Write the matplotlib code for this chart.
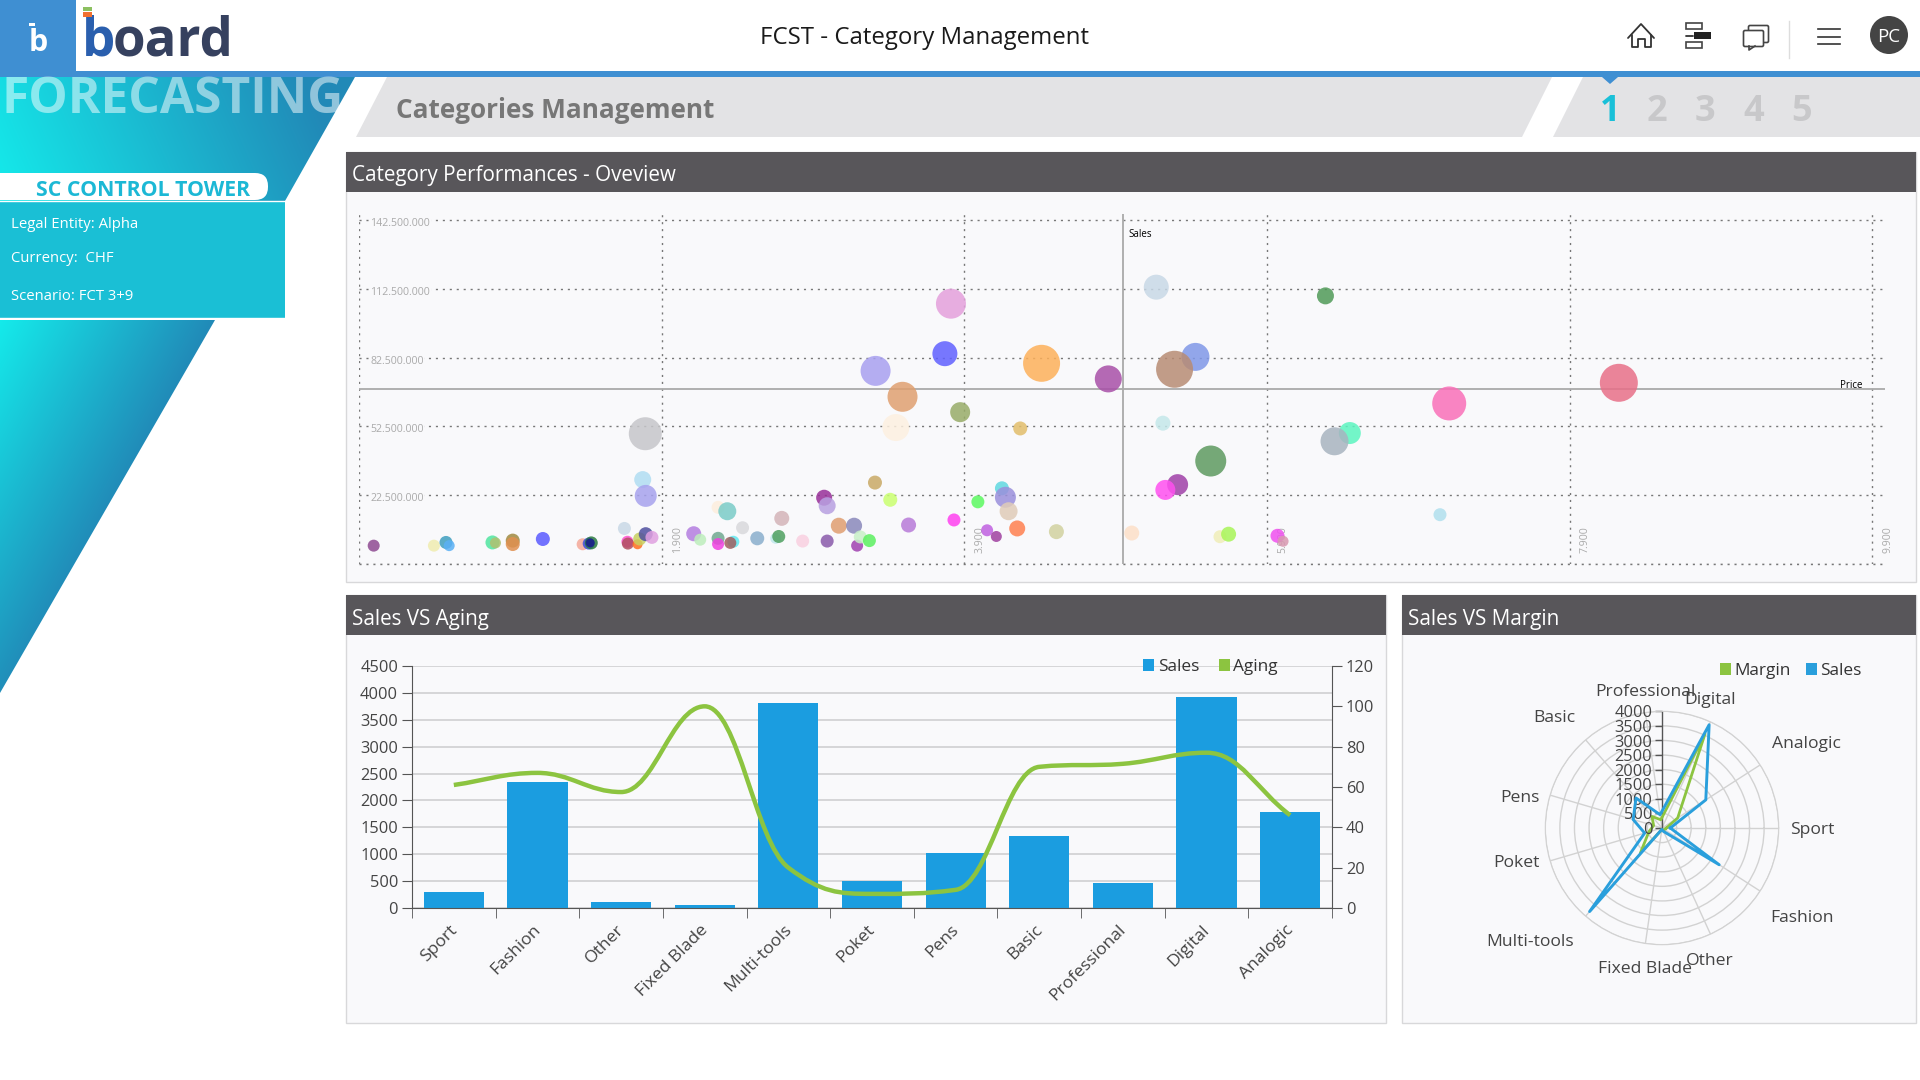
import matplotlib
matplotlib.use('Agg')
import matplotlib.pyplot as plt
import matplotlib.transforms as mtrans
import numpy as np
from matplotlib.patches import Polygon, Rectangle, Circle, FancyBboxPatch
from matplotlib.path import Path
from matplotlib.patches import PathPatch

plt.rcParams['font.family'] = ['Open Sans', 'DejaVu Sans']

W, H = 1920, 1080

# bubble chart
price = [-3, 395, 475, 496, 782, 802, 916, 916, 1115, 1378, 1418, 1435, 1428, 1654, 1674, 1677, 1741, 1755, 1795, 1836,
         1792, 1775, 1795, 2112, 2155, 2273, 2273, 2374, 2354, 2273, 2334, 2435, 2532, 2654, 2674, 2694, 2832, 2994,
         2974, 2994, 3071, 3172, 3192, 3213, 3273, 3310, 3411, 3532, 3832, 3812, 3772, 3314, 3492, 3448, 3873, 4270,
         4411, 4852, 3990, 4149, 4172, 4193, 4051, 4112, 4250, 4509, 5007,
         5169, 6287, 5428, 5290, 5213, 5529, 5310, 5229, 5590, 5647, 5970, 6007, 6448, 6347, 7105, 7044, 8226]
sales_m = [0.5, 0.5, 1.9, 0.5, 1.9, 1.7, 2.7, 1.2, 3.4, 1.1, 1.4, 1.7, 1.7, 8.0, 2.2, 1.4, 1.1, 3.4, 5.5, 4.1,
           49.3, 29.3, 22.2, 5.7, 3.1, 3.7, 1.2, 2.2, 1.7, 17.2, 15.5, 8.3, 3.7, 3.7, 4.5, 12.4, 2.5, 2.5,
           21.4, 17.9, 9.2, 9.2, 0.5, 4.3, 2.7, 28.0, 20.5, 9.5, 11.7, 106.0, 84.2, 76.7, 65.4, 52.0, 58.7, 51.6,
           80.0, 73.2, 19.6, 25.5, 21.6, 15.5, 7.2, 4.5, 8.0, 6.6, 6.0,
           113.2, 109.4, 82.8, 77.4, 53.9, 37.4, 27.1, 24.8, 4.4, 5.5, 4.8, 2.4, 49.6, 46.0, 62.5, 14.0, 71.5]
bubble_size = [12, 12, 13, 11, 14, 11, 14, 14, 14, 12, 12, 13, 9, 13, 12, 12, 10, 13, 14, 13,
               33, 17, 22, 15, 12, 13, 12, 12, 12, 13, 18, 13, 14, 11, 13, 15, 13, 13,
               16, 17, 16, 16, 12, 13, 13, 14, 14, 15, 13, 30, 25, 30, 30, 27, 20, 14,
               37, 27, 13, 14, 21, 18, 12, 11, 16, 15, 15,
               25, 17, 28, 37, 15, 31, 21, 20, 13, 15, 14, 11, 22, 28, 34, 13, 38]
bubble_color = ['#8e4a92', '#f0edb0', '#3f9fc0', '#5ab0f5', '#50e5a0', '#b0c070', '#a08a40', '#e09050', '#5a5aff',
                '#f5a898', '#3a50e0', '#2a7a40', '#1a1a90', '#c9d9e6', '#ff50d0', '#b05060', '#ff7020', '#c8d060',
                '#5050a0', '#e0a0e0', '#c6c6ca', '#b0ddf2', '#a7a2ee', '#b47ee0', '#bdeebc', '#70a890', '#f040e0',
                '#60e8f0', '#a06060', '#fdeedd', '#7accc8', '#d8d8dc', '#8aaecc', '#c0e8ec', '#4fa060', '#d4b4b8',
                '#fad0e0', '#8a5aaa', '#982f98', '#b8a0e0', '#e09e70', '#8a88bb', '#a040b0', '#c8f0c8', '#5cf060',
                '#c9aa66', '#caff70', '#b87ad8', '#ff40f0', '#e4a0dc', '#6060ff', '#a8a0f0', '#e0a070', '#fdf0e0',
                '#98ac68', '#e2be6a', '#fdb05a', '#a850a8', '#5cfa60', '#60d8e0', '#9a90dc', '#e0ccb8', '#c060e0',
                '#a040a0', '#ff8050', '#d2d2a0', '#fde0c8',
                '#c8d8e6', '#509a58', '#8098e8', '#b88c74', '#c4e8ea', '#5e9a60', '#a040a8', '#ff50f0', '#f0eeb8',
                '#a8f558', '#f050f0', '#d898b0', '#5cf5c0', '#a8b4c0', '#fa70b8', '#b0e0ee', '#e87088']
price_ticks = [-100, 1900, 3900, 5900, 7900, 9900]
price_labels = ['', '1.900', '3.900', '5.900', '7.900', '9.900']
sales_ticks = [-7.5, 22.5, 52.5, 82.5, 112.5, 142.5]
sales_labels = ['', '22.500.000', '52.500.000', '82.500.000', '112.500.000', '142.500.000']
avg_price = 4950
avg_sales = 69

# bars + radar
categories = ['Sport', 'Fashion', 'Other', 'Fixed Blade', 'Multi-tools', 'Poket', 'Pens', 'Basic',
              'Professional', 'Digital', 'Analogic']
sales = [300, 2340, 120, 60, 3810, 500, 1020, 1330, 460, 3920, 1780]
aging = [61, 67, 57.5, 100, 20, 7, 9, 70, 71.5, 77, 46]
margin = [150, 100, 80, 60, 1130, 470, 300, 525, 285, 3550, 640]
radar_sales = [285, 2330, 130, 50, 3790, 620, 1030, 1360, 460, 3890, 1785]
radar_label_dx = [150, 140, 48, -17, -132, -146, -142, -108, -17, 48, 144]
radar_label_dy = [0, 88, 131, 139, 112, 33, -32, -112, -138, -130, -86]

fig = plt.figure(figsize=(W / 100, H / 100), dpi=100, facecolor='white')


def px_axes(l, t, r, b, **kw):
    return fig.add_axes([l / W, 1 - b / H, (r - l) / W, (b - t) / H], **kw)


# page furniture, in pixels
bg = px_axes(0, 0, W, H, zorder=0)
bg.axis('off')


def gradient(points, ky, k0):
    poly = Polygon(points, closed=True, fc='none', ec='none')
    bg.add_patch(poly)
    xs = [p[0] for p in points]
    ys = [p[1] for p in points]
    c0 = np.array([0.08, 0.92, 0.92])
    c1 = np.array([0.13, 0.54, 0.72])
    u, v = np.meshgrid(np.linspace(0, 1, 300), np.linspace(0, 1, 300))
    t = np.clip(u + ky * v + k0, 0, 1)[:, :, None]
    im = bg.imshow(c0 + (c1 - c0) * t, extent=(min(xs), max(xs), max(ys), min(ys)), aspect='auto', zorder=1)
    im.set_clip_path(poly)


gradient([(0, 77), (355, 77), (285, 201), (0, 201)], -0.15, 0.15)
gradient([(0, 320), (215, 320), (0, 693)], 0.95, 0)
bg.set_xlim(0, W)
bg.set_ylim(H, 0)

bg.add_patch(Rectangle((0, 71), W, 6, fc='#3f8fd2', ec='none', zorder=3))
bg.add_patch(Rectangle((0, 0), 76, 71, fc='#3f8fd2', ec='none', zorder=3))
bg.add_patch(Polygon([(387, 77), (1552, 77), (1522, 137), (356, 137)], fc='#e3e3e5', ec='none', zorder=2))
bg.add_patch(Polygon([(1583, 77), (W, 77), (W, 137), (1553, 137)], fc='#e3e3e5', ec='none', zorder=2))
bg.add_patch(Polygon([(1602, 77), (1618, 77), (1610, 84)], fc='#3f8fd2', ec='none', zorder=3))

# logo
bg.text(38, 51, 'b', color='white', fontsize=22, fontweight='bold', ha='center', va='baseline', zorder=4)
bg.add_patch(Rectangle((29, 23), 6, 3, fc='white', ec='none', zorder=4))
bg.text(82, 56, 'b', color='#2a5fae', fontsize=38, fontweight='bold', va='baseline', zorder=4)
bg.text(113, 56, 'oard', color='#36415f', fontsize=38, fontweight='bold', va='baseline', zorder=4)
bg.add_patch(Rectangle((83, 7), 9, 4, fc='#8cc060', ec='none', zorder=4))
bg.add_patch(Rectangle((83, 12), 9, 5, fc='#f07030', ec='none', zorder=4))

bg.text(925, 38, 'FCST - Category Management', color='#1a1a1a', fontsize=17.3, ha='center', va='center', zorder=4)

# header icons
ic = dict(color='#333333', lw=1.3, zorder=4, solid_capstyle='round')
bg.plot([1628, 1641, 1654], [38, 24, 38], **ic)
bg.plot([1632, 1632, 1638, 1638, 1645, 1645, 1651, 1651], [35, 47, 47, 39, 39, 47, 47, 35], **ic)
bg.add_patch(Rectangle((1686, 23), 16, 6, fc='none', ec='#444444', lw=1.2, zorder=4))
bg.add_patch(Rectangle((1686, 42), 16, 6, fc='none', ec='#444444', lw=1.2, zorder=4))
bg.add_patch(Rectangle((1694, 32), 17, 7, fc='#222222', ec='none', zorder=4))
bg.plot([1686, 1693], [36, 36], **ic)
bg.add_patch(FancyBboxPatch((1750, 27), 17, 14, boxstyle='round,pad=1.5', fc='white', ec='#444444', lw=1.2, zorder=4))
bg.add_patch(FancyBboxPatch((1745, 32), 17, 13, boxstyle='round,pad=1.5', fc='white', ec='#444444', lw=1.2, zorder=4))
bg.plot([1749, 1749, 1755], [46, 50, 46], zorder=5, color='#444444', lw=1.2)
bg.plot([1789, 1789], [21, 58], color='#dddddd', lw=1, zorder=4)
for yy in (29, 37, 44):
    bg.plot([1818, 1840], [yy, yy], color='#333333', lw=1.2, zorder=4)
bg.add_patch(Circle((1889, 35), 19, fc='#444444', ec='none', zorder=4))
bg.text(1889, 37, 'PC', color='white', fontsize=13.5, ha='center', va='center', zorder=5)

# band texts
bg.text(396, 111, 'Categories Management', color='#777777', fontsize=18.8, fontweight='bold', va='center', zorder=4)
for i, xx in enumerate([1610, 1657, 1705, 1754, 1802]):
    bg.text(xx, 112, str(i + 1), color='#1ac0d8' if i == 0 else '#c8c8ca', fontsize=26, fontweight='bold',
            ha='center', va='center', zorder=4)

# sidebar
bg.text(1, 100, 'FORECASTING', color='white', alpha=0.5, fontsize=35.7, fontweight='bold', va='center', zorder=4)
bg.add_patch(FancyBboxPatch((-20, 173), 288, 27, boxstyle='round,pad=0,rounding_size=13', fc='white', ec='none', zorder=3))
bg.text(143, 191, 'SC CONTROL TOWER', color='#1cb8d5', fontsize=15.3, fontweight='bold', ha='center', va='center', zorder=4)
bg.add_patch(Rectangle((0, 201), 285, 117, fc='#1abfd5', ec='none', zorder=3))
for yy in (201, 318):
    bg.plot([0, 285], [yy, yy], color='white', lw=1, zorder=3)
for yy, txt in zip([224, 259, 297], ['Legal Entity: Alpha', 'Currency:  CHF', 'Scenario: FCT 3+9']):
    bg.text(11, yy, txt, color='white', fontsize=10.7, va='center', zorder=4)

# panels
for l, t, r, b, title in [(346, 152, 1916, 582, 'Category Performances - Oveview'),
                          (346, 595, 1386, 1023, 'Sales VS Aging'),
                          (1402, 595, 1916, 1023, 'Sales VS Margin')]:
    bg.add_patch(Rectangle((l, t), r - l, b - t, fc='#f9f9fb', ec='#d8d8da', lw=1, zorder=2))
    bg.add_patch(Rectangle((l, t), r - l, 40, fc='#58565a', ec='none', zorder=3))
    bg.text(l + 6, t + 24, title, color='white', fontsize=14.9, va='center', zorder=4)

# bubble chart
ax = px_axes(359, 214, 1885, 564, zorder=2, facecolor='none')
ax.set_xlim(-100, 9985)
ax.set_ylim(-7.5, 145.1)
for s in ax.spines.values():
    s.set_visible(False)
ax.set_xticks(price_ticks)
ax.set_yticks(sales_ticks)
ax.set_xticklabels([])
ax.set_yticklabels([])
ax.tick_params(length=0)
ax.grid(True, ls=(0, (1.5, 3.5)), color='#777777', lw=1)
ax.set_axisbelow(True)
ax.plot([-100, 9985], [-7.5, -7.5], ls=(0, (1.5, 3.5)), color='#777777', lw=1, clip_on=False)
ax.axvline(avg_price, color='#aaaaaa', lw=1.3, zorder=2)
ax.axhline(avg_sales, color='#aaaaaa', lw=1.3, zorder=2)
ax.scatter(price, sales_m, s=[(d * 0.72) ** 2 for d in bubble_size], c=bubble_color, alpha=0.85,
           linewidths=0, zorder=3)
for v, lab in zip(sales_ticks, sales_labels):
    if lab:
        ax.annotate(lab, (-100, v), xytext=(8, -2.5), textcoords='offset points', fontsize=7.6, color='#aaaaaa',
                    va='center', bbox=dict(fc='#f9f9fb', ec='none', pad=0.5), zorder=2.5)
for v, lab in zip(price_ticks, price_labels):
    if lab:
        ax.annotate(lab, (v, -7.5), xytext=(11.5, 8), textcoords='offset points', fontsize=7.6, color='#aaaaaa',
                    rotation=90, ha='center', va='bottom', zorder=2.5)
ax.annotate('Sales', (avg_price, 145.1), xytext=(4, -15), textcoords='offset points', fontsize=7, color='black',
            va='center')
ax.annotate('Price', (9985, avg_sales), xytext=(-16, 2), textcoords='offset points', fontsize=7, color='black',
            ha='right', va='center')

# bars + smooth aging line
x = np.arange(len(categories))
ax2 = px_axes(412, 666, 1332, 908, zorder=2, facecolor='none')
ax2.set_xlim(-0.5, 10.5)
ax2.set_ylim(0, 4500)
ax2.set_yticks(np.arange(0, 4501, 500))
ax2.yaxis.grid(True, color='#d6d6d8', lw=1.4)
ax2.set_axisbelow(True)
ax2.bar(x, sales, width=0.72, color='#1b9de0', zorder=2)
ax2.set_xticks(x)
ax2.set_xticklabels(categories, rotation=45, ha='right', rotation_mode='anchor', fontsize=12.6, color='#444444')
ax2.set_xticks(np.arange(-0.5, 11, 1), minor=True)
ax2.tick_params(axis='x', which='major', length=0, pad=10)
ax2.tick_params(axis='x', which='minor', length=7, color='#555555')
ax2.tick_params(axis='y', length=7, color='#555555', labelsize=11.8, labelcolor='#444444', pad=3)
shift = mtrans.ScaledTranslation(-5 / 100, 0, fig.dpi_scale_trans)
for lab in ax2.get_xticklabels():
    lab.set_transform(lab.get_transform() + shift)
for s in ('top', 'right'):
    ax2.spines[s].set_visible(False)
ax2.spines['left'].set_color('#555555')
ax2.spines['bottom'].set_color('#555555')

ax3 = ax2.twinx()
ax3.set_zorder(ax2.get_zorder() + 1)
ax3.set_ylim(0, 120)
ax3.set_yticks(np.arange(0, 121, 20))
ax3.tick_params(axis='y', length=7, color='#555555', labelsize=11.8, labelcolor='#444444', pad=3)
for s in ('top', 'left', 'bottom'):
    ax3.spines[s].set_visible(False)
ax3.spines['right'].set_color('#555555')

# monotone tangents, the curve is flat at each turn and does not overshoot
step = np.diff(aging)
slope = [step[0]]
for a, b in zip(step[:-1], step[1:]):
    slope.append(2.8 * a * b / (a + b) if a * b > 0 else 0)
slope.append(step[-1])
verts = [(x[0], aging[0])]
codes = [Path.MOVETO]
for i in range(len(x) - 1):
    verts += [(x[i] + 0.4, aging[i] + slope[i] * 0.4), (x[i + 1] - 0.4, aging[i + 1] - slope[i + 1] * 0.4),
              (x[i + 1], aging[i + 1])]
    codes += [Path.CURVE4] * 3
ax3.add_patch(PathPatch(Path(verts, codes), fc='none', ec='#8cc440', lw=3.2))

h_sales = Rectangle((0, 0), 1, 1, fc='#1b9de0')
h_aging = Rectangle((0, 0), 1, 1, fc='#8cc440')
fig.legend([h_sales, h_aging], ['Sales', 'Aging'], ncol=2, frameon=False, fontsize=12.4, labelcolor='#333333',
           handlelength=0.65, handleheight=0.65, handletextpad=0.2, columnspacing=1.15,
           loc='center left', bbox_to_anchor=(1143 / W, 1 - 667 / H), borderpad=0, borderaxespad=0)

# radar
theta = np.arange(len(categories)) * 2 * np.pi / len(categories)
cx, cy, rad = 1662, 828, 116.7
pol = px_axes(cx - rad, cy - rad, cx + rad, cy + rad, projection='polar', zorder=2, facecolor='none')
pol.set_theta_zero_location('E')
pol.set_theta_direction(-1)
pol.set_ylim(0, 4000)
rings = np.arange(0, 4001, 500)
pol.set_yticks(rings[1:])
pol.set_yticklabels([])
pol.set_xticks(theta)
pol.set_xticklabels([])
pol.grid(True, color='#d2d2d2', lw=1)
pol.spines['polar'].set_color('#d2d2d2')
pol.plot(np.r_[theta, theta[0]], margin + margin[:1], color='#8cc440', lw=2, zorder=3)
pol.plot(np.r_[theta, theta[0]], radar_sales + radar_sales[:1], color='#2a9fdc', lw=2.1, zorder=4)
north = 1.5 * np.pi
pol.plot([north, north], [0, 4000], color='#555555', lw=1, zorder=2)
pol.plot([north] * len(rings), rings, ls='none', marker=0, ms=5, mew=1, color='#555555', clip_on=False, zorder=2)
for r in rings:
    pol.annotate(str(r), (north, r), xytext=(-7, -1.5), textcoords='offset points', ha='right', va='center',
                 fontsize=11.8, color='#444444', annotation_clip=False)
for lab, dx, dy in zip(categories, radar_label_dx, radar_label_dy):
    bg.text(cx + dx, cy + dy + 2, lab, fontsize=12.6, color='#444444', ha='center', va='center', zorder=4)

h_margin = Rectangle((0, 0), 1, 1, fc='#8cc440')
h_rs = Rectangle((0, 0), 1, 1, fc='#2a9fdc')
fig.legend([h_margin, h_rs], ['Margin', 'Sales'], ncol=2, frameon=False, fontsize=12.4, labelcolor='#333333',
           handlelength=0.65, handleheight=0.65, handletextpad=0.2, columnspacing=0.85,
           loc='center left', bbox_to_anchor=(1720 / W, 1 - 671 / H), borderpad=0, borderaxespad=0)

fig.savefig('out.png', dpi=100)
